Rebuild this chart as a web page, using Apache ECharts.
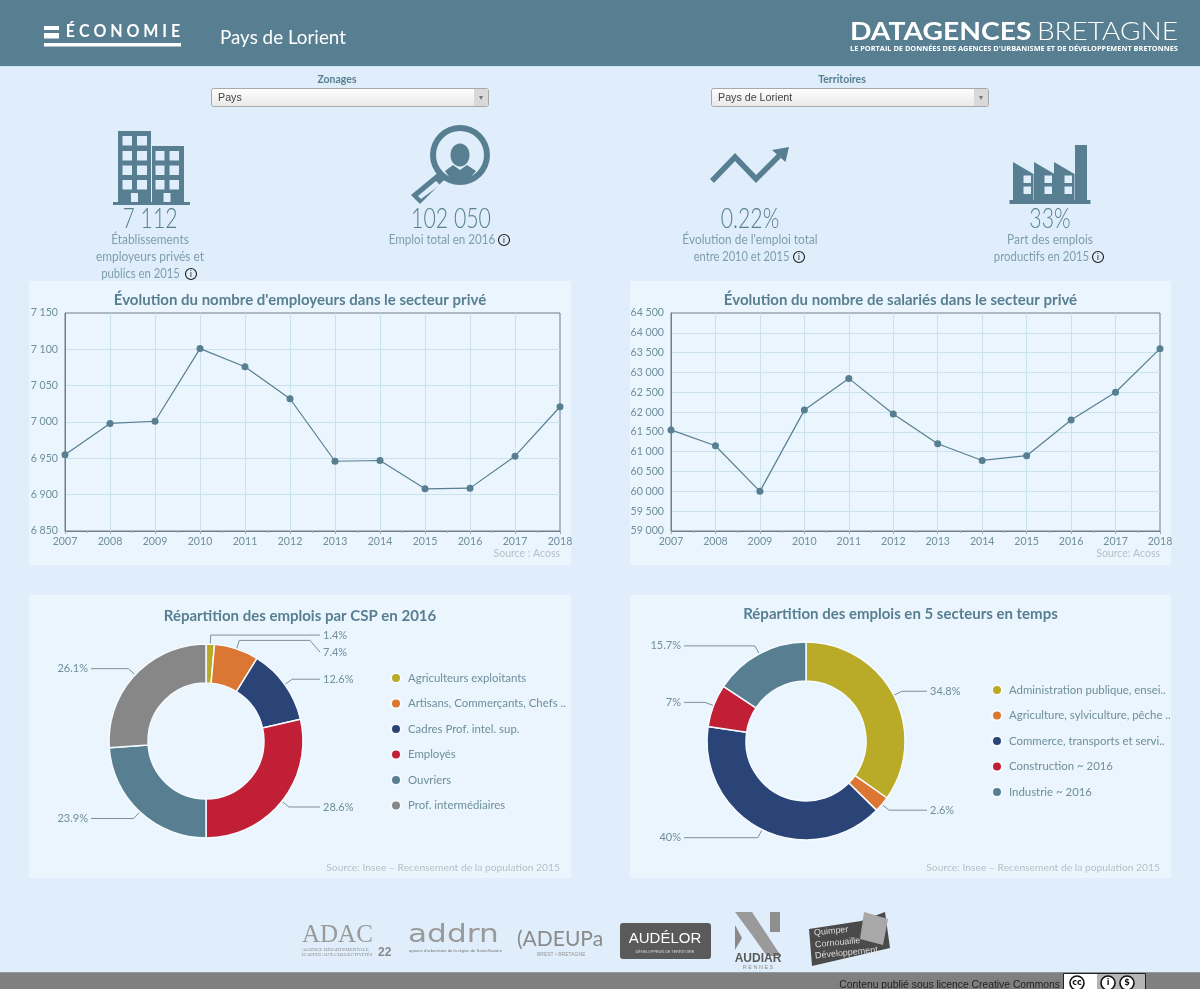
<!DOCTYPE html>
<html lang="fr">
<head>
<meta charset="utf-8">
<style>html,body{margin:0;padding:0;background:#dfeefa;overflow:hidden}#c{width:1200px;height:989px}</style>
<script src="https://cdn.jsdelivr.net/npm/echarts@6/dist/echarts.min.js"></script>
</head>
<body>
<div id="c"></div>
<script>
const years = [2007,2008,2009,2010,2011,2012,2013,2014,2015,2016,2017,2018];
const employeurs = [6955,6998,7001,7101,7076,7032,6946,6947,6908,6909,6953,7021];
const salaries = [61550,61150,60000,62050,62850,61950,61200,60780,60900,61800,62500,63600];
const cspNames = ['Agriculteurs exploitants','Artisans, Commerçants, Chefs ..','Cadres Prof. intel. sup.','Employés','Ouvriers','Prof. intermédiaires'];
const cspValues = [1.4,7.4,12.6,28.6,23.9,26.1];
const secteurNames = ['Administration publique, ensei..','Agriculture, sylviculture, pêche ..','Commerce, transports et servi..','Construction ~ 2016','Industrie ~ 2016'];
const secteurValues = [34.8,2.6,40,7,15.7];
const palette = ['#b9ab27','#dc7633','#2a4478','#c11f35','#577f91','#878787'];

const FONT = 'Lato';
const TEAL = '#577f91', SOFT = '#7f9ea9', SRC = '#b4c0c6';
const fmt = v => String(v).replace(/\B(?=(\d{3})+$)/g, ' ');
const g = [];
const rect = (x,y,w,h,fill,extra) => g.push({type:'rect',silent:true,shape:{x,y,width:w,height:h,r:(extra&&extra.r)||0},style:{fill}});
const poly = (points,fill) => g.push({type:'polygon',silent:true,shape:{points},style:{fill}});
const txt = (x,y,text,size,fill,opt) => { opt=opt||{}; g.push({type:'text',silent:true,x,y,scaleX:opt.sx||1,rotation:opt.rot||0,style:{text,fill,font:(opt.weight||'normal')+' '+size+'px '+(opt.font||FONT),textAlign:opt.align||'center',textVerticalAlign:'middle'}}); };
const circ = (cx,cy,r,fill,stroke,lw) => g.push({type:'circle',silent:true,shape:{cx,cy,r},style:{fill:fill||'transparent',stroke:stroke||null,lineWidth:lw||0}});
const info = (cx,cy) => { circ(cx,cy,5.5,'transparent','#1a1a1a',1.1); txt(cx,cy+0.3,'i',8.5,'#1a1a1a',{font:'DejaVu Sans'}); };

// page furniture
rect(0,0,1200,66,TEAL);
rect(0,66,1200,1,'#cfe7f2');
[[29,281],[630,281],[29,595],[630,595]].forEach(p=>rect(p[0],p[1],p[0]===29?542:541,p[1]===281?284:283,'#ebf5fd'));
rect(0,972,1200,17,'#808080');
rect(0,972,1200,1,'#8f9aa0');
// header
rect(44,26,15,4,'#fff'); rect(44,33,15,5.5,'#fff'); rect(44,43,137,3.5,'#fff');
txt(123,32,'É C O N O M I E',16.5,'#fff',{weight:'bold',sx:0.97});
txt(220,37.5,'Pays de Lorient',19,'#fff',{align:'left',sx:0.99});
txt(850,32,'DATAGENCES',25,'#fff',{align:'left',weight:'bold',sx:1.13});
txt(1178,32,'BRETAGNE',25,'#fff',{align:'right',weight:'300',sx:1.12});
txt(850,48.5,'LE PORTAIL DE DONNÉES DES AGENCES D\'URBANISME ET DE DÉVELOPPEMENT BRETONNES',7.2,'#fff',{align:'left',weight:'bold',font:'Open Sans',sx:1.025});
// dropdowns
function dropdown(x,label,value,lx){
  txt(lx,80,label,10.5,TEAL,{weight:'bold'});
  g.push({type:'rect',silent:true,shape:{x:x+0.5,y:88.5,width:277,height:18,r:2},style:{fill:{type:'linear',x:0,y:0,x2:0,y2:1,colorStops:[{offset:0,color:'#fff'},{offset:1,color:'#e8e8e8'}]},stroke:'#a8a8a8',lineWidth:1}});
  rect(x+263,89,14,17,'#d9d9d9');
  poly([[x+268,96],[x+272,96],[x+270,100]],'#777');
  txt(x+7,98.5,value,10.7,'#444',{align:'left',font:'Liberation Sans'});
}
dropdown(211,'Zonages','Pays',337);
dropdown(711,'Territoires','Pays de Lorient',842);
// building icon
rect(118,131,33,72,TEAL); rect(152,146,32,57,TEAL); rect(113,202,77,3,TEAL);
[136,151,165.5,180].forEach(y=>{rect(122.5,y,9.5,9.5,'#dfeefa');rect(137,y,10,9.5,'#dfeefa');});
[151,165.5,180].forEach(y=>{rect(155.5,y,9,9.5,'#dfeefa');rect(169.5,y,9.5,9.5,'#dfeefa');});
rect(131,193,7,9,'#dfeefa'); rect(163.5,193,7,9,'#dfeefa');
// magnifier icon
g.push({type:'ring',silent:true,shape:{cx:460,cy:155,r:30,r0:24},style:{fill:TEAL}});
poly([[440,171],[447,177],[420,204],[411,195]],TEAL);
poly([[436,181],[440,185],[421,199],[418,196]],'#dfeefa');
g.push({type:'ellipse',silent:true,shape:{cx:460,cy:155,rx:9.5,ry:11.5},style:{fill:TEAL}});
poly([[445,171],[453,165],[460,170],[467,165],[476,171],[470,178],[460,181],[450,178]],TEAL);
// trend icon
g.push({type:'polyline',silent:true,shape:{points:[[712,181],[735,157],[756,179],[779,156]]},style:{stroke:TEAL,lineWidth:5.5,fill:'none'}});
poly([[772,150],[789,147],[785.5,162]],TEAL);
// factory icon
rect(1009.5,200,81,4,TEAL); rect(1075,145,12,56,TEAL);
[1013,1034,1054].forEach((x)=>{poly([[x,162],[x+20.5,174],[x+20.5,201],[x,201]],TEAL);rect(x+10.5,175.5,7.5,7.5,'#dfeefa');rect(x+10.5,186.5,7.5,7.5,'#dfeefa');});
// key figures
const kpi=(x,v,lines,ix,iy)=>{txt(x,218.5,v,28,TEAL,{weight:'300',sx:0.76});lines.forEach((l,i)=>txt(x+l[1],240+i*17,l[0],12.5,SOFT,{sx:l[2]}));info(ix,iy);};
kpi(150,'7 112',[['Établissements',0,.95],['employeurs privés et',0,.95],['publics en 2015',-9.5,.9]],191,274);
kpi(451,'102 050',[['Emploi total en 2016',-9,.93]],504,240);
kpi(750,'0.22%',[['Évolution de l\'emploi total',0,.95],['entre 2010 et 2015',-8.5,.89]],799,257);
kpi(1050,'33%',[['Part des emplois',0,.95],['productifs en 2015',-8.5,.91]],1098,257);
// sources
txt(560,554,'Source : Acoss',10.5,SRC,{align:'right'});
txt(1160,554,'Source: Acoss',10.5,SRC,{align:'right'});
txt(560,868,'Source: Insee – Recensement de la population 2015',10.3,SRC,{align:'right'});
txt(1160,868,'Source: Insee – Recensement de la population 2015',10.3,SRC,{align:'right'});
// logos
txt(302,935,'ADAC',25,'#9a9a9a',{align:'left',font:'Liberation Serif'});
txt(302,950,'AGENCE DÉPARTEMENTALE',5,'#8a8a8a',{align:'left',font:'Liberation Serif'});
txt(302,955,'D\'APPUI AUX COLLECTIVITÉS',5,'#8a8a8a',{align:'left',font:'Liberation Serif'});
txt(378,953,'22',12,'#8a8a8a',{align:'left',weight:'bold',font:'Liberation Sans'});
txt(408,936,'addrn',24,'#9a9a9a',{align:'left',font:'DejaVu Sans',sx:1.3});
txt(409,951,'agence d\'urbanisme de la région de Saint-Nazaire',4.2,'#777',{align:'left',font:'Liberation Sans'});
txt(517,939,'(ADEUPa',21,'#8a8a8a',{align:'left',font:'Lato'});
txt(537,955,'BREST • BRETAGNE',5,'#999',{align:'left',font:'Liberation Sans'});
rect(620,923,91,36,'#5a5a5a',{r:3});
txt(665,939,'AUDÉLOR',15,'#fff',{font:'Liberation Sans'});
txt(665,952,'DÉVELOPPEUR DE TERRITOIRE',3.8,'#ddd',{font:'Liberation Sans'});
poly([[735,912],[752,912],[781,956],[767,956],[752,935]],'#9a9a9a');
poly([[735,925],[742,938],[735,950]],'#8a8a8a');
rect(770,912,10,20,'#8f8f8f');
txt(758,959,'AUDIAR',12,'#5a5a5a',{weight:'bold',font:'Liberation Sans'});
txt(758,967,'R E N N E S',5.5,'#8a8a8a',{font:'Liberation Sans'});
poly([[809,929],[861,921],[885,912],[890,948],[812,966]],'#4a4a4a');
poly([[864,912],[888,919],[883,945],[860,939]],'#a8a8a8');
txt(814,933,'Quimper',9,'#ddd',{align:'left',font:'Liberation Sans',rot:0.1});
txt(815,945,'Cornouaille',9,'#ddd',{align:'left',font:'Liberation Sans',rot:0.1});
txt(815,956,'Développement',9,'#ddd',{align:'left',font:'Liberation Sans',rot:0.1});
// footer
txt(1060,985,'Contenu publié sous licence Creative Commons',11,'#222',{align:'right',font:'Liberation Sans',sx:0.94});
g.push({type:'rect',silent:true,shape:{x:1063.5,y:973.5,width:82,height:16},style:{fill:'#b5b5b5',stroke:'#222',lineWidth:1}});
rect(1064,974,33,15,'#fff');
[1077,1108,1127].forEach((x,i)=>{circ(x,983,7,'#fff','#111',1.6);txt(x,983,['cc','i','$'][i],8,'#111',{weight:'bold',font:'DejaVu Sans'});});

// charts
const grids = [{left:65,top:313,width:495,height:218},{left:671,top:313,width:489,height:218}];
const axisText = {color:'#6e8f9b',fontFamily:FONT,fontSize:10.6};
const split = {show:true,showMinLine:false,showMaxLine:false,lineStyle:{color:'#c9e2ee',width:1}};
const xAxes = grids.map((_,i)=>({gridIndex:i,type:'value',min:2007,max:2018,interval:1,
  axisLine:{show:true,lineStyle:{color:'#6d7f88'}},axisTick:{show:true,length:3,lineStyle:{color:'#9db0b8'}},
  minorTick:{show:true,splitNumber:2,length:2,lineStyle:{color:'#9db0b8'}},
  splitLine:split,axisLabel:Object.assign({},axisText,{margin:5,formatter:v=>String(v)})}));
const yAxes = [{min:6850,max:7150,interval:50},{min:59000,max:64500,interval:500}].map((a,i)=>Object.assign(a,{gridIndex:i,type:'value',
  axisLine:{show:true,lineStyle:{color:'#6d7f88'}},axisTick:{show:false},
  splitLine:split,axisLabel:Object.assign({},axisText,{margin:7,formatter:fmt})}));
const lineSeries = (vals,i)=>({type:'line',xAxisIndex:i,yAxisIndex:i,data:vals.map((v,k)=>[years[k],v]),symbol:'circle',symbolSize:7,clip:true,
  lineStyle:{color:TEAL,width:1.2},itemStyle:{color:TEAL},silent:true,animation:false});

// doughnut call-outs: anchored on each slice's mid-angle, then led out to a common label column
function callouts(vals,cx,cy,R,rightX,leftX){
  const sum = vals.reduce((a,b)=>a+b,0); let cum = 0;
  const items = vals.map((v,i)=>{
    const a = (cum+v/2)/sum*2*Math.PI; cum += v;
    const s = Math.sin(a), c = Math.cos(a);
    return {i,right:s>=0,anchor:[cx+(R-5)*s,cy-(R-5)*c],elbow:[cx+(R+9)*s,cy-(R+9)*c],y:cy-(R+9)*c};
  });
  [true,false].forEach(side=>{
    const col = items.filter(t=>t.right===side).sort((p,q)=>p.y-q.y);
    col.forEach((t,k)=>{ if(k && t.y-col[k-1].y<17) t.y = col[k-1].y+17; });
  });
  return params=>{
    const t = items[params.dataIndex];
    const endX = t.right ? rightX-3 : leftX+3, dir = t.right ? 1 : -1;
    const pts = Math.abs(t.y-t.elbow[1])>0.5
      ? [t.anchor,t.elbow,[endX-dir*10,t.elbow[1]],[endX,t.y]]
      : [t.anchor,t.elbow,[endX,t.y]];
    return {x:t.right?rightX:leftX,y:t.y,align:t.right?'left':'right',verticalAlign:'middle',labelLinePoints:pts};
  };
}
const pieSeries = (names,vals,center,radius,rightX,leftX)=>({type:'pie',center,radius,startAngle:90,silent:true,animation:false,
  data:names.map((n,i)=>({name:n,value:vals[i],itemStyle:{color:palette[i]}})),
  itemStyle:{borderColor:'#f6fbff',borderWidth:1.5},
  label:{show:true,position:'outside',formatter:p=>p.value+'%',color:'#6e8f9b',fontFamily:FONT,fontSize:11},
  labelLine:{show:true,smooth:false,lineStyle:{color:'#7d9099',width:1}},
  labelLayout:callouts(vals,center[0],center[1],radius[1],rightX,leftX)});
const legend = (names,left,top)=>({data:names,orient:'vertical',left,top,padding:0,icon:'circle',itemWidth:10,itemHeight:10,itemGap:11.5,selectedMode:false,
  textStyle:{color:'#6e8f9b',fontFamily:FONT,fontSize:11.4,padding:[0,0,0,2],lineHeight:14}});

const chart = echarts.init(document.getElementById('c'),null,{renderer:'canvas'});
chart.setOption({
  animation:false,backgroundColor:'#dfeefa',
  title:[
    ['Évolution du nombre d\'employeurs dans le secteur privé',300,293],
    ['Évolution du nombre de salariés dans le secteur privé',900.5,293],
    ['Répartition des emplois par CSP en 2016',300,609],
    ['Répartition des emplois en 5 secteurs en temps',900.5,607]
  ].map(t=>({text:t[0],left:t[1],top:t[2],textAlign:'center',padding:0,textStyle:{color:TEAL,fontFamily:FONT,fontWeight:'bold',fontSize:15}})),
  grid:grids.map(o=>Object.assign({show:true,borderColor:'#6d7f88',borderWidth:1,backgroundColor:'transparent'},o)),
  xAxis:xAxes,yAxis:yAxes,
  legend:[legend(cspNames,390,671),legend(secteurNames,991,683)],
  series:[lineSeries(employeurs,0),lineSeries(salaries,1),
    pieSeries(cspNames,cspValues,[206,741],[58,97],323,88),
    pieSeries(secteurNames,secteurValues,[806,741],[60,99],930,681)],
  graphic:{elements:g.map(e=>Object.assign({z:-1},e))}
});
</script>
</body>
</html>
